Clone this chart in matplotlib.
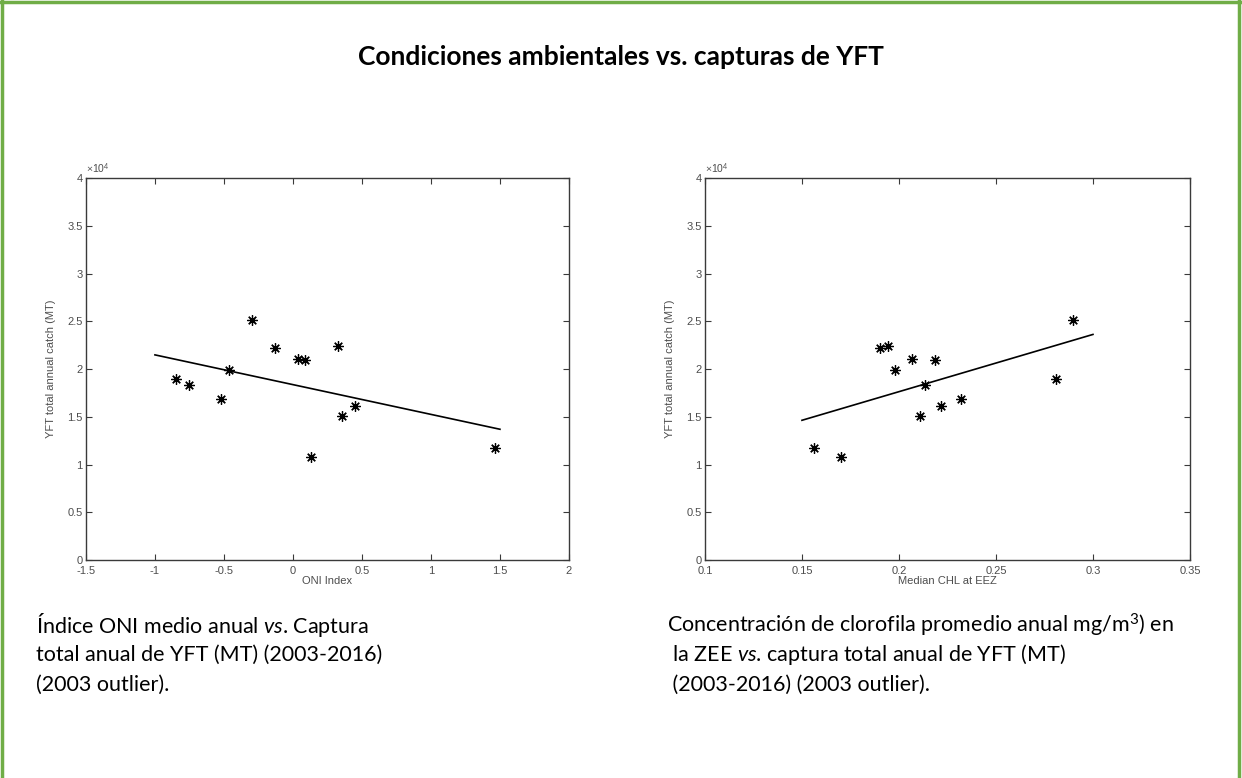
import matplotlib
matplotlib.use('Agg')
import matplotlib.pyplot as plt
from matplotlib.lines import Line2D

# yearly values 2004-2016 (2003 left out as outlier)
catch_mt = [18920, 18350, 16830, 19850, 25110, 22190, 21030, 20900, 10780, 22430, 15110, 16140, 11700]
oni_index = [-0.845, -0.754, -0.524, -0.465, -0.296, -0.128, 0.035, 0.089, 0.131, 0.325, 0.356, 0.449, 1.467]
chl_median = [0.2809, 0.2132, 0.2320, 0.1981, 0.2897, 0.1900, 0.2069, 0.2187, 0.1699, 0.1942, 0.2108, 0.2217, 0.1564]

# least-squares lines as drawn in the original
oni_fit_x = [-1.0, 1.5]
oni_fit_y = [21480, 13690]
chl_fit_x = [0.15, 0.30]
chl_fit_y = [14630, 23620]

oni_ticks = [-1.5, -1, -0.5, 0, 0.5, 1, 1.5, 2]
chl_ticks = [0.1, 0.15, 0.2, 0.25, 0.3, 0.35]
catch_ticks = [0, 0.5, 1, 1.5, 2, 2.5, 3, 3.5, 4]

title = 'Condiciones ambientales vs. capturas de YFT'
left_caption = ['Índice ONI medio anual $\\mathit{vs}$. Captura',
                'total anual de YFT (MT) (2003-2016)',
                '(2003 outlier).']
right_caption = ['Concentración de clorofila promedio anual mg/m$^3$) en',
                 ' la ZEE $\\mathit{vs}$. captura total anual de YFT (MT)',
                 ' (2003-2016) (2003 outlier).']

plt.rcParams['mathtext.fontset'] = 'custom'
plt.rcParams['mathtext.rm'] = 'Lato'
plt.rcParams['mathtext.it'] = 'Lato:italic'

AX_GRAY = '#3a3a3a'
TXT_GRAY = '#4d4d4d'


def scatter_panel(ax, x, xticks, fit_x, fit_y, xlabel):
    y = [c / 1e4 for c in catch_mt]
    ax.plot(x, y, linestyle='none', marker=(8, 2, 0), markersize=7.5,
            markeredgewidth=0.9, color='black')
    ax.plot(fit_x, [c / 1e4 for c in fit_y], color='black', linewidth=1.2)
    ax.set_xlim(xticks[0], xticks[-1])
    ax.set_ylim(0, 4)
    ax.set_xticks(xticks)
    ax.set_xticklabels(['%g' % t for t in xticks])
    ax.set_yticks(catch_ticks)
    ax.set_yticklabels(['%g' % t for t in catch_ticks])
    ax.tick_params(direction='in', length=4, width=0.8, colors=AX_GRAY,
                   labelcolor=TXT_GRAY, labelsize=8, top=True, right=True,
                   pad=2.5, labelfontfamily='Liberation Sans')
    ax.tick_params(axis='x', pad=4.5)
    for s in ax.spines.values():
        s.set_color(AX_GRAY)
        s.set_linewidth(1.0)
    ax.set_xlabel(xlabel, fontsize=8, color=TXT_GRAY, family='Liberation Sans', labelpad=0)
    ax.set_ylabel('YFT total annual catch (MT)', fontsize=8, color=TXT_GRAY,
                  family='Liberation Sans')
    ax.yaxis.set_label_coords(-0.062, 0.5)
    ax.text(0.0, 1.004, r'$\times$10$^4$', transform=ax.transAxes, fontsize=7.5,
            color=TXT_GRAY, family='Liberation Sans', ha='left', va='bottom')


fig = plt.figure(figsize=(12.42, 7.78), dpi=100)
fig.patch.set_facecolor('white')

ax1 = fig.add_axes([0.0692, 0.2802, 0.3889, 0.4910])
scatter_panel(ax1, oni_index, oni_ticks, oni_fit_x, oni_fit_y, 'ONI Index')

ax2 = fig.add_axes([0.5676, 0.2802, 0.3905, 0.4910])
scatter_panel(ax2, chl_median, chl_ticks, chl_fit_x, chl_fit_y, 'Median CHL at EEZ')

fig.text(0.5, 0.9267, title, ha='center', va='center', fontsize=19,
         fontweight='bold', family='Lato')

line_y = [0.1967, 0.1581, 0.1195]
for txt, yy in zip(left_caption, line_y):
    fig.text(36 / 1242, yy, txt, ha='left', va='center', fontsize=15.5, family='Lato')
for txt, yy in zip(right_caption, line_y):
    fig.text(667 / 1242, yy, txt, ha='left', va='center', fontsize=15.5, family='Lato')

# green frame (top, left, right)
green = '#70ad47'
fig.add_artist(Line2D([2 / 1242, 2 / 1242], [0, 1], color=green, linewidth=2.5))
fig.add_artist(Line2D([1239 / 1242, 1239 / 1242], [0, 1], color=green, linewidth=2.5))
fig.add_artist(Line2D([0, 1], [1 - 1.5 / 778, 1 - 1.5 / 778], color=green, linewidth=2.5))

fig.savefig('out.png', dpi=100)
